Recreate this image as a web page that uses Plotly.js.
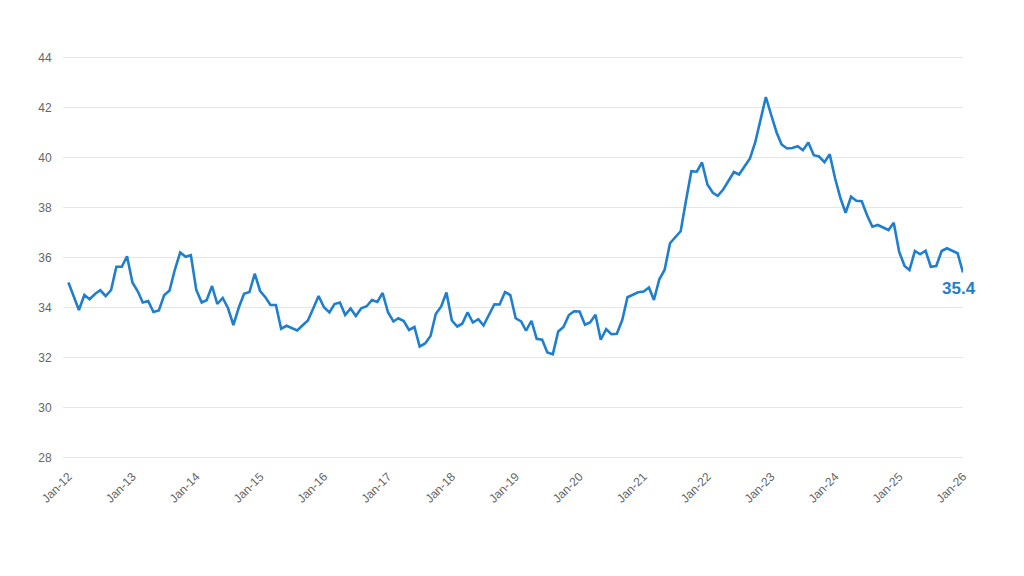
<!DOCTYPE html>
<html>
<head>
<meta charset="utf-8">
<script src="https://cdn.plot.ly/plotly-3.0.1.min.js"></script>
<style>
  html, body { margin: 0; padding: 0; background: #ffffff; }
  #chart { width: 1024px; height: 576px; }
</style>
</head>
<body>
<div id="chart"></div>
<script>
// Monthly series, January 2012 to January 2026
const startYear = 2012;
const values = [
  35.0, 34.45, 33.9, 34.5, 34.33, 34.54, 34.69, 34.46, 34.7, 35.63, 35.63, 36.05,   // 2012
  35.0, 34.64, 34.2, 34.26, 33.82, 33.88, 34.49, 34.68, 35.53, 36.2, 36.03, 36.09,  // 2013
  34.7, 34.2, 34.29, 34.86, 34.14, 34.38, 33.98, 33.3, 34.0, 34.55, 34.62, 35.35,   // 2014
  34.66, 34.4, 34.1, 34.1, 33.15, 33.27, 33.19, 33.08, 33.29, 33.48, 33.97, 34.46,  // 2015
  34.01, 33.8, 34.14, 34.2, 33.7, 33.96, 33.66, 33.97, 34.05, 34.3, 34.22, 34.58,   // 2016
  33.81, 33.44, 33.57, 33.46, 33.1, 33.22, 32.44, 32.56, 32.86, 33.74, 34.04, 34.6, // 2017
  33.48, 33.24, 33.35, 33.81, 33.4, 33.53, 33.28, 33.73, 34.13, 34.12, 34.62, 34.5, // 2018
  33.57, 33.44, 33.07, 33.47, 32.75, 32.71, 32.2, 32.13, 33.04, 33.22, 33.7, 33.85, // 2019
  33.84, 33.31, 33.4, 33.71, 32.71, 33.13, 32.93, 32.95, 33.5, 34.41, 34.5, 34.61,  // 2020
  34.64, 34.8, 34.3, 35.13, 35.5, 36.57, 36.81, 37.05, 38.3, 39.45, 39.43, 39.8,    // 2021
  38.92, 38.59, 38.47, 38.72, 39.06, 39.42, 39.32, 39.65, 39.96, 40.6, 41.49, 42.42,// 2022
  41.69, 40.99, 40.52, 40.36, 40.38, 40.45, 40.29, 40.6, 40.09, 40.04, 39.81, 40.13,// 2023
  39.16, 38.36, 37.79, 38.43, 38.27, 38.25, 37.7, 37.23, 37.3, 37.19, 37.1, 37.39,  // 2024
  36.23, 35.66, 35.5, 36.26, 36.13, 36.27, 35.63, 35.66, 36.26, 36.37, 36.26, 36.17,// 2025
  35.4                                                                               // 2026
];
const yTicks = [28, 30, 32, 34, 36, 38, 40, 42, 44];

const dates = values.map((v, i) => {
  const y = startYear + Math.floor(i / 12);
  const m = (i % 12) + 1;
  return y + "-" + String(m).padStart(2, "0") + "-01";
});

const lineColor = "#1f7fcc";
const lastIdx = values.length - 1;

const trace = {
  x: dates,
  y: values,
  type: "scatter",
  mode: "lines",
  line: { color: lineColor, width: 2.6 },
  hoverinfo: "x+y"
};

const layout = {
  width: 1024,
  height: 576,
  margin: { l: 63, r: 61, t: 55, b: 116 },
  paper_bgcolor: "#ffffff",
  plot_bgcolor: "#ffffff",
  showlegend: false,
  font: { family: "Liberation Sans, Arial, sans-serif", size: 12, color: "#666666" },
  xaxis: {
    type: "date",
    range: ["2011-12-01", "2026-01-01"],
    tick0: "2012-01-01",
    dtick: "M12",
    tickformat: "%b-%y",
    tickangle: -45,
    showgrid: false,
    zeroline: false,
    showline: false,
    ticks: "outside",
    ticklen: 4,
    tickcolor: "rgba(0,0,0,0)",
    tickfont: { size: 12, color: "#666666" }
  },
  yaxis: {
    range: [27.9, 44.1],
    tickvals: yTicks,
    ticktext: yTicks.map(String),
    showgrid: true,
    gridcolor: "#e6e6e6",
    gridwidth: 1,
    zeroline: false,
    showline: false,
    ticks: "outside",
    ticklen: 8,
    tickcolor: "rgba(0,0,0,0)",
    tickfont: { size: 12, color: "#666666" }
  },
  annotations: [{
    x: dates[lastIdx],
    y: values[lastIdx],
    xref: "x",
    yref: "y",
    text: "<b>" + values[lastIdx].toFixed(1) + "</b>",
    showarrow: false,
    xanchor: "center",
    yanchor: "middle",
    xshift: -4,
    yshift: -16,
    font: { size: 17, color: lineColor, family: "Liberation Sans, Arial, sans-serif" }
  }]
};

Plotly.newPlot("chart", [trace], layout, { displayModeBar: false, staticPlot: true });
</script>
</body>
</html>
